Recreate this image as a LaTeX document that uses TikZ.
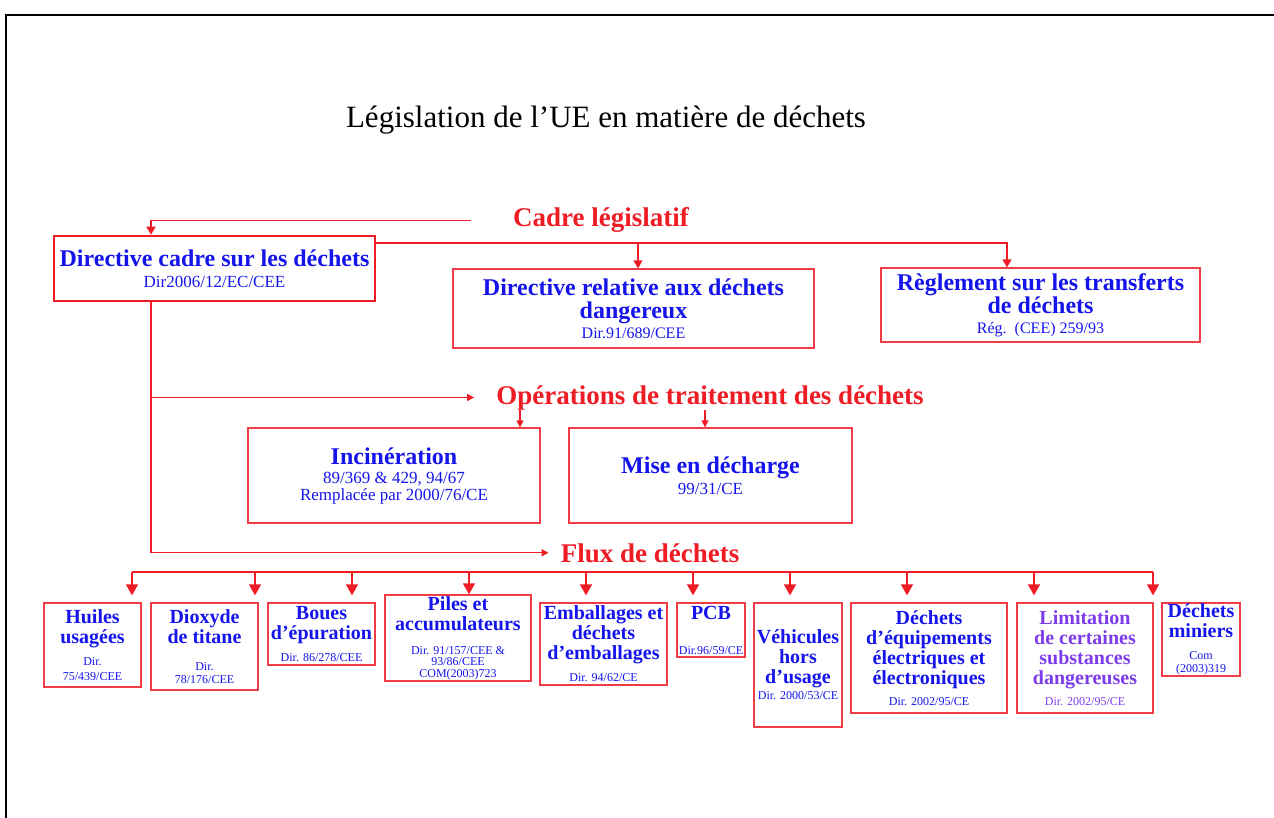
\documentclass[tikz,border=0pt]{standalone}
\usepackage{fontspec}
\setmainfont{Liberation Serif}
\usetikzlibrary{arrows.meta}

\definecolor{lred}{RGB}{238,28,36}
\definecolor{bred}{RGB}{240,60,70}
\definecolor{tblue}{RGB}{20,20,235}
\definecolor{tpurple}{RGB}{125,60,235}

\newcommand{\sm}[2][12]{{\mdseries\fontsize{#1}{#1}\selectfont #2}}

\begin{document}
\begin{tikzpicture}[x=1pt, y=-1pt,
   box/.style={draw=bred, line width=1.3pt, inner sep=0pt, align=center, text=tblue,
               font=\bfseries\fontsize{20}{20}\selectfont},
   bigbox/.style={box, font=\bfseries\fontsize{24}{23}\selectfont},
   head/.style={inner sep=0pt, anchor=base, text=lred, font=\bfseries\fontsize{27}{27}\selectfont},
   line/.style={draw=lred, line width=1.4pt},
   arr/.style={line, -{Triangle[width=9pt,length=8pt]}},
   sarr/.style={line, -{Triangle[width=7pt,length=7pt]}},
   farr/.style={line, -{Triangle[width=12pt,length=11pt]}}]
   \useasboundingbox (0,0) rectangle (1274,818);
   \draw[line width=2.5pt] (6,818) -- (6,15) -- (1274,15);

   \node[inner sep=0pt, anchor=base, font=\fontsize{31}{31}\selectfont] (title) at (606,128)
        {Législation de l’UE en matière de déchets};

   \node[head] (cadre) at (601,227) {Cadre législatif};
   \node[head] (ops) at (710,404) {Opérations de traitement des déchets};
   \node[head] (flux) at (650,562) {Flux de déchets};

   \node[bigbox, draw=lred, line width=2.5pt, minimum width=321, minimum height=65] (dcd) at (214.5,268.5)
        {Directive cadre sur les déchets\\[-2pt]\sm[17]{Dir2006/12/EC/CEE}};
   \node[bigbox, minimum width=361, minimum height=79] (ddg) at (633.5,308.5)
        {Directive relative aux déchets\\dangereux\\[-3pt]\sm[16]{Dir.91/689/CEE}};
   \node[bigbox, minimum width=319, minimum height=74] (rtd) at (1040.5,305)
        {Règlement sur les transferts\\de déchets\\[-3pt]\sm[16]{Rég.\ \ (CEE) 259/93}};

   \node[bigbox, minimum width=292, minimum height=95] (inc) at (394,475.5)
        {Incinération\\[-4pt]\sm[17]{89/369 \& 429, 94/67}\\[-6pt]\sm[17]{Remplacée par 2000/76/CE}};
   \node[bigbox, minimum width=283, minimum height=95] (mise) at (710.5,475.5)
        {Mise en décharge\\[-2pt]\sm[17]{99/31/CE}};

   \node[box, minimum width=97, minimum height=84] (huiles) at (92.5,645)
        {Huiles\\usagées\\[2pt]\sm{Dir.}\\[-5pt]\sm{75/439/CEE}};
   \node[box, minimum width=107, minimum height=87] (dioxyde) at (204.5,646.5)
        {Dioxyde\\de titane\\[7pt]\sm{Dir.}\\[-7pt]\sm{78/176/CEE}};
   \node[box, minimum width=107, minimum height=62] (boues) at (321.5,634)
        {Boues\\d’épuration\\[2pt]\sm{Dir. 86/278/CEE}};
   \node[box, minimum width=146, minimum height=86] (piles) at (458,638)
        {Piles et\\accumulateurs\\[4pt]\sm{Dir. 91/157/CEE \&}\\[-9pt]\sm{93/86/CEE}\\[-8pt]\sm{COM(2003)723}};
   \node[box, minimum width=127, minimum height=82] (emb) at (603.5,644)
        {Emballages et\\déchets\\d’emballages\\[2pt]\sm{Dir. 94/62/CE}};
   \node[box, minimum width=68, minimum height=54] (pcb) at (711,630)
        {PCB\\[15pt]\sm{Dir.96/59/CE}};
   \node[box, minimum width=88, minimum height=124] (veh) at (798,665)
        {Véhicules\\hors\\d’usage\\[-4pt]\sm{Dir. 2000/53/CE}};
   \node[box, minimum width=156, minimum height=110] (deee) at (929,658)
        {Déchets\\d’équipements\\électriques et\\électroniques\\[1pt]\sm{Dir. 2002/95/CE}};
   \node[box, text=tpurple, minimum width=136, minimum height=110] (limit) at (1085,658)
        {Limitation\\de certaines\\substances\\dangereuses\\[1pt]\sm{Dir. 2002/95/CE}};
   \node[box, minimum width=78, minimum height=73] (miniers) at (1201,639.5)
        {Déchets\\miniers\\[2pt]\sm{Com}\\[-7pt]\sm{(2003)319}};

   \draw[arr] ([xshift=-42pt]cadre.west) -| ([xshift=-63.5pt]dcd.north);
   \coordinate (topbus) at ([yshift=25.5pt]dcd.east);
   \coordinate (ddgin) at ([xshift=4.5pt]ddg.north);
   \draw[arr] (topbus) -| ([xshift=-33.5pt]rtd.north);
   \draw[arr] (ddgin |- topbus) -- (ddgin);

   \coordinate (spine) at ([xshift=-63.5pt]dcd.south);
   \draw[sarr] (spine) |- ([xshift=-12pt]flux.west);
   \draw[sarr] (spine |- ops.west) -- ([xshift=-22pt]ops.west);

   \coordinate (incin) at ([xshift=126pt]inc.north);
   \coordinate (misein) at ([xshift=-5.5pt]mise.north);
   \draw[sarr] (incin |- ops.south) -- (incin);
   \draw[sarr] (misein |- ops.south) -- (misein);

   \coordinate (fbusL) at (132,572);
   \coordinate (fbusR) at (1153,572);
   \draw[line] (fbusL) -- (fbusR);
   \foreach \n/\x/\s in {huiles/132/7, dioxyde/255/7, boues/352/7, piles/469/0, emb/586/7,
                         pcb/693/7, veh/790/7, deee/907/7, limit/1034/7, miniers/1153/7}
      {\coordinate (t) at (\x,572);
       \draw[farr, shorten >=\s pt] (t) -- (t |- \n.north);}
\end{tikzpicture}
\end{document}
